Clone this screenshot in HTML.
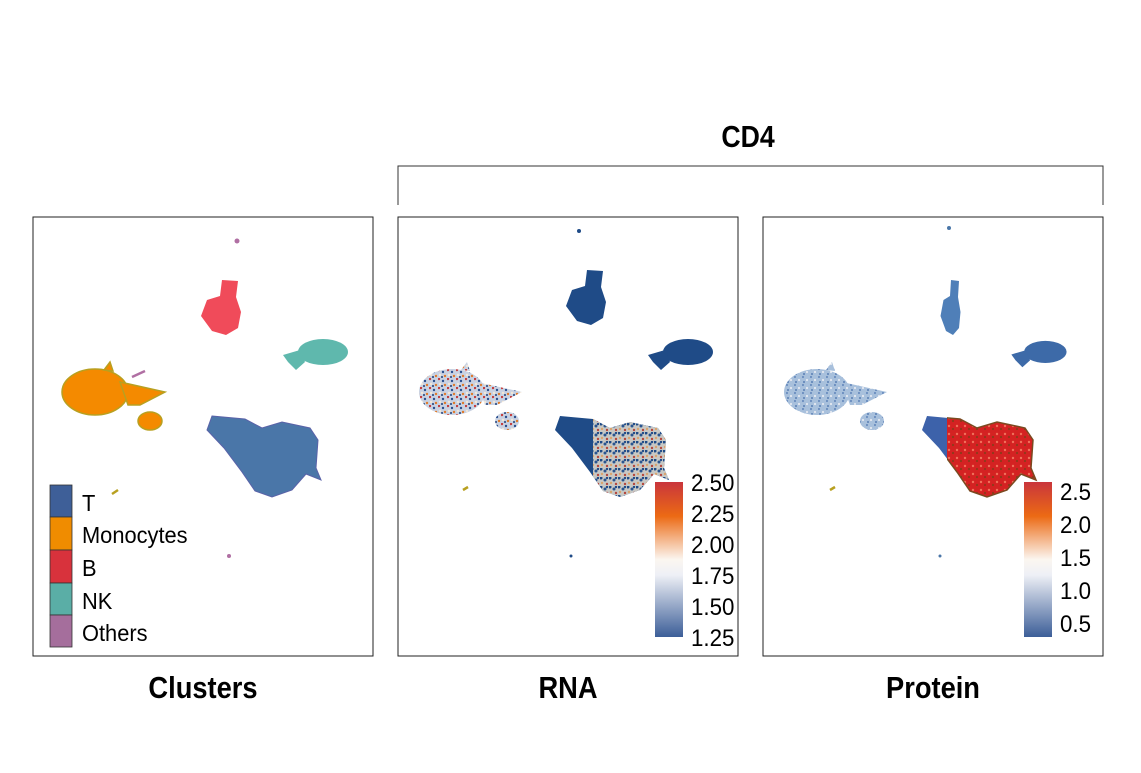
<!DOCTYPE html>
<html><head><meta charset="utf-8"><style>
html,body{margin:0;padding:0;background:#fff}
svg text{font-family:"Liberation Sans",sans-serif}
</style></head><body>
<svg width="1141" height="768" viewBox="0 0 1141 768" xmlns="http://www.w3.org/2000/svg">
<defs>
<g id="B"><path d="M222 280 L238 281 L236 297 L241 312 L238 328 L226 335 L212 331 L201 316 L207 300 L220 296 Z"/></g>
<g id="NK"><ellipse cx="323" cy="352" rx="25" ry="13"/><path d="M300 350 L283 355 L288 362 L296 370 L305 362 Z"/></g>
<g id="MO"><ellipse cx="95" cy="392" rx="33" ry="23"/><path d="M120 382 L165 392 L140 405 L128 405 Z"/><ellipse cx="150" cy="421" rx="12" ry="9"/><path d="M104 370 L110 362 L113 371 Z"/></g>
<g id="T"><path d="M212 416 L245 419 L262 428 L282 422 L310 428 L318 440 L316 468 L321 480 L306 474 L292 490 L272 497 L255 491 L242 472 L224 448 L207 430 Z"/></g>
<pattern id="rnaMo" width="9" height="9" patternUnits="userSpaceOnUse"><rect width="9" height="9" fill="#c9d2e2"/><circle cx="1" cy="1" r="1.2" fill="#c43b3b"/><circle cx="5" cy="3" r="1.2" fill="#2a4f8f"/><circle cx="2" cy="6" r="1.2" fill="#f2e7d8"/><circle cx="7" cy="7" r="1.2" fill="#e07a2a"/><circle cx="4" cy="8" r="1" fill="#1f3f78"/></pattern>
<pattern id="rnaT" width="9" height="9" patternUnits="userSpaceOnUse"><rect width="9" height="9" fill="#c8c8c4"/><circle cx="1" cy="1" r="1.5" fill="#1f4b87"/><circle cx="5" cy="3" r="1.5" fill="#2a5590"/><circle cx="2" cy="6" r="1.2" fill="#d9a46e"/><circle cx="7" cy="7" r="1.2" fill="#b5463c"/><circle cx="7" cy="1" r="1.2" fill="#1f4b87"/></pattern>
<pattern id="prMo" width="8" height="8" patternUnits="userSpaceOnUse"><rect width="8" height="8" fill="#a8c0dc"/><circle cx="1" cy="1" r="1.1" fill="#6d8fc0"/><circle cx="5" cy="4" r="1.1" fill="#e4e8f0"/><circle cx="2" cy="6" r="1" fill="#5a7fb5"/></pattern>
<pattern id="prRed" width="8" height="8" patternUnits="userSpaceOnUse"><rect width="8" height="8" fill="#d42222"/><circle cx="2" cy="2" r="1.2" fill="#f0705a"/><circle cx="6" cy="5" r="1.1" fill="#8c3a1a"/></pattern>
<linearGradient id="cb" x1="0" y1="0" x2="0" y2="1"><stop offset="0" stop-color="#c9353c"/><stop offset="0.22" stop-color="#ec6a14"/><stop offset="0.5" stop-color="#fbf6f0"/><stop offset="0.6" stop-color="#eef0f6"/><stop offset="1" stop-color="#3c5e98"/></linearGradient>
<clipPath id="tleft"><rect x="0" y="0" width="232" height="768"/></clipPath>
<clipPath id="tright"><rect x="232" y="0" width="200" height="768"/></clipPath>
<clipPath id="rtright"><rect x="245" y="0" width="200" height="768"/></clipPath>
</defs>

<path d="M398 205 L398 166 L1103 166 L1103 205" fill="none" stroke="#333" stroke-width="1"/>
<text x="748" y="147" text-anchor="middle" font-size="31" font-weight="bold" transform="translate(748 0) scale(0.86 1) translate(-748 0)">CD4</text>

<rect x="33" y="217" width="340" height="439" fill="none" stroke="#222" stroke-width="1"/>
<rect x="398" y="217" width="340" height="439" fill="none" stroke="#222" stroke-width="1"/>
<rect x="763" y="217" width="340" height="439" fill="none" stroke="#222" stroke-width="1"/>

<g>
<circle cx="237" cy="241" r="2.5" fill="#b06fa3"/>
<use href="#B" fill="#f04b5a"/>
<use href="#NK" fill="#5fb8ad"/>
<use href="#MO" fill="#f48a00" stroke="#b8a020" stroke-width="1.5"/>
<use href="#T" fill="#4a76a8" stroke="#5a62a8" stroke-width="1"/>
<path d="M132 377 L145 371" stroke="#b06fa3" stroke-width="2.5"/>
<path d="M112 494 L118 490" stroke="#b8a020" stroke-width="2.5"/>
<circle cx="229" cy="556" r="2" fill="#b06fa3"/>
</g>
<g stroke="#333" stroke-width="0.8">
<rect x="50" y="485" width="22" height="32" fill="#3e5f98"/>
<rect x="50" y="517" width="22" height="33" fill="#f08c00"/>
<rect x="50" y="550" width="22" height="33" fill="#d8323c"/>
<rect x="50" y="583" width="22" height="32" fill="#5aaea6"/>
<rect x="50" y="615" width="22" height="32" fill="#a56e9c"/>
</g>
<g font-size="23" transform="translate(82 0) scale(0.95 1) translate(-82 0)">
<text x="82" y="511">T</text>
<text x="82" y="543">Monocytes</text>
<text x="82" y="576">B</text>
<text x="82" y="609">NK</text>
<text x="82" y="641">Others</text>
</g>

<g transform="translate(365 0)">
<circle cx="214" cy="231" r="2" fill="#1f4b87"/>
<use href="#B" fill="#1f4b87" transform="translate(0 -10)"/>
<use href="#NK" fill="#1f4b87"/>
<use href="#MO" fill="url(#rnaMo)" transform="translate(-8 0)"/>
<g transform="translate(-17 0)">
<use href="#T" fill="#1f4b87"/>
<g clip-path="url(#rtright)"><use href="#T" fill="url(#rnaT)"/></g>
</g>
<path d="M98 490 L103 487" stroke="#b8a020" stroke-width="2.5"/>
<circle cx="206" cy="556" r="1.5" fill="#1f4b87"/>
</g>
<rect x="655" y="482" width="28" height="155" fill="url(#cb)"/>
<g font-size="24" transform="translate(691 0) scale(0.93 1) translate(-691 0)">
<text x="691" y="491">2.50</text><text x="691" y="522">2.25</text><text x="691" y="553">2.00</text><text x="691" y="584">1.75</text><text x="691" y="615">1.50</text><text x="691" y="646">1.25</text>
</g>

<g transform="translate(730 0)">
<circle cx="219" cy="228" r="2" fill="#4a76a8"/>
<use href="#B" fill="#4f7fb8" transform="translate(110 0) scale(0.5 1)"/>
<use href="#NK" fill="#3d6aa8" transform="translate(272 0) scale(0.85 0.85) translate(-272 62)"/>
<use href="#MO" fill="url(#prMo)" transform="translate(-8 0)"/>
<g transform="translate(-15 0)">
<g clip-path="url(#tleft)"><use href="#T" fill="#3d62aa"/></g>
<g clip-path="url(#tright)"><use href="#T" fill="url(#prRed)" stroke="#7a4a20" stroke-width="1.5"/></g>
</g>
<path d="M100 490 L105 487" stroke="#b8a020" stroke-width="2.5"/>
<circle cx="210" cy="556" r="1.5" fill="#4a76a8"/>
</g>
<rect x="1024" y="482" width="28" height="155" fill="url(#cb)"/>
<g font-size="24" transform="translate(1060 0) scale(0.93 1) translate(-1060 0)">
<text x="1060" y="500">2.5</text><text x="1060" y="533">2.0</text><text x="1060" y="566">1.5</text><text x="1060" y="599">1.0</text><text x="1060" y="632">0.5</text>
</g>

<g font-size="31" font-weight="bold">
<text x="203" y="698" text-anchor="middle" transform="translate(203 0) scale(0.88 1) translate(-203 0)">Clusters</text>
<text x="568" y="698" text-anchor="middle" transform="translate(568 0) scale(0.88 1) translate(-568 0)">RNA</text>
<text x="933" y="698" text-anchor="middle" transform="translate(933 0) scale(0.88 1) translate(-933 0)">Protein</text>
</g>
</svg>
</body></html>
